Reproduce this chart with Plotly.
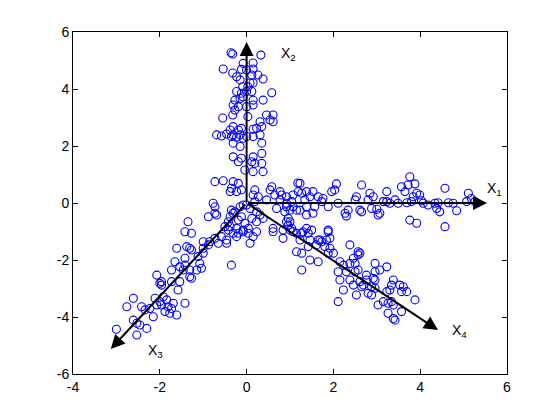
import plotly.graph_objects as go

# ---- data ----
x_vals = [
 -0.36,-0.32,0.33,-0.54,-0.08,0.15,-0.12,0.00,0.15,-0.32,-0.23,-0.15,0.26,0.12,0.08,0.38,-0.09,0.03,0.15,
 -0.23,-0.12,0.00,0.12,0.58,-0.27,-0.15,-0.08,0.15,0.38,-0.31,-0.19,-0.27,0.00,0.15,-0.32,-0.55,0.03,0.46,
 0.61,0.54,0.61,0.31,0.35,0.23,0.15,-0.31,-0.19,-0.38,-0.12,-0.69,-0.58,-0.46,-0.31,0.00,0.31,
 -0.35,-0.23,-0.15,-0.08,0.15,-0.15,-0.31,0.35,0.35,-0.31,-0.19,-0.12,0.15,0.19,0.12,0.35,-0.04,0.15,0.38,
 -0.73,-0.54,-0.31,-0.19,-0.35,-0.23,-0.12,-0.38,0.19,0.15,0.27,0.19,0.58,0.54,0.77,0.81,0.65,1.18,
 -0.77,-0.73,-0.88,-0.35,-0.27,-0.38,-0.08,0.08,0.23,0.31,0.46,0.77,0.92,1.04,0.69,1.00,1.15,
 -0.19,-0.12,0.12,0.23,-0.50,-0.42,-0.31,-0.08,0.23,0.61,0.84,1.00,-0.73,-0.23,0.15,
 1.23,2.07,2.03,1.96,2.65,0.92,1.07,1.19,1.27,1.38,1.53,1.46,1.34,1.65,1.76,1.73,2.84,2.92,2.80,3.23,2.53,
 2.50,3.23,2.11,2.34,2.27,2.30,2.61,2.88,3.00,3.03,2.65,0.92,1.07,1.23,1.38,1.53,1.38,1.57,1.88,0.88,0.96,
 0.92,1.04,1.07,1.30,1.42,1.50,1.38,1.88,1.92,1.69,
 3.76,3.57,3.72,3.88,3.65,3.92,3.99,3.84,4.57,5.11,5.18,3.15,3.30,3.42,3.49,3.69,3.80,4.03,4.07,4.18,4.34,
 4.38,4.45,4.41,4.65,4.76,4.84,5.07,5.26,3.07,3.76,3.92,4.57,
 -0.73,-0.31,-0.15,0.00,-0.69,-0.42,-0.38,-0.23,-0.19,-0.08,-0.04,-1.35,-1.42,-1.27,-0.58,-0.46,-0.65,-0.46,
 0.08,-1.00,-0.88,-0.85,-1.61,-1.31,-1.38,-1.27,-1.00,-1.42,-1.12,-1.00,-1.65,-1.54,-1.42,-1.31,-1.08,-1.15,
 -1.04,-0.35,-1.73,-1.46,-2.07,-1.31,-1.27,-1.96,-1.96,-2.00,-1.73,-1.54,-1.58,-2.61,-2.11,-2.76,-2.42,-2.34,
 -1.92,-1.84,-2.00,-1.96,-1.81,-1.73,-1.77,-1.61,-1.88,-2.15,-2.23,-2.07,-1.42,-1.69,-2.61,-2.53,-2.46,-2.30,
 -3.00,-2.53,
 0.04,0.04,0.38,0.61,0.84,1.00,0.96,1.15,1.27,1.88,1.84,1.65,1.46,1.23,1.15,1.27,1.46,1.65,1.42,1.61,1.73,
 1.80,1.92,1.88,2.00,1.27,2.38,2.57,2.57,2.46,2.50,2.38,2.15,2.23,2.11,2.30,2.15,2.38,2.50,2.57,2.76,2.96,
 2.96,2.96,2.88,2.65,2.46,2.23,2.53,2.11,3.03,
 2.61,3.23,3.07,2.92,2.76,2.69,2.96,2.88,2.80,2.61,3.38,3.34,3.30,3.23,3.53,3.61,3.57,3.69,3.88,3.15,3.26,
 3.34,3.38,3.26,3.38,3.42,3.57,
]
y_vals = [
 5.27,5.23,5.19,4.70,4.90,4.91,4.69,4.67,4.70,4.56,4.43,4.32,4.49,4.49,4.21,4.35,4.08,4.08,4.21,
 3.91,3.85,3.91,3.91,3.87,3.61,3.67,3.73,3.61,3.61,3.44,3.38,3.26,3.38,3.44,3.09,2.98,3.03,3.09,
 3.09,2.91,2.85,2.85,2.68,2.62,2.59,2.68,2.56,2.56,2.62,2.39,2.35,2.42,2.39,2.33,2.39,
 2.33,2.31,2.39,2.27,2.33,1.98,2.10,2.10,1.74,1.62,1.45,1.57,1.62,1.39,1.45,1.39,1.16,1.10,1.10,
 0.75,0.78,0.75,0.69,0.52,0.40,0.46,0.40,0.46,0.28,0.22,0.05,0.57,0.46,0.40,0.28,0.28,0.70,
 -0.01,-0.36,-0.48,-0.25,-0.31,-0.48,-0.07,-0.19,-0.31,-0.42,0.11,0.11,-0.01,0.05,-0.19,-0.25,-0.25,
 -0.60,-0.48,-0.54,-0.66,-0.83,-0.95,-1.06,-0.95,-1.01,-0.89,-0.95,-0.66,-1.24,-1.18,-1.18,
 0.69,0.67,0.46,0.40,0.63,0.22,0.28,0.40,0.34,0.40,0.40,0.22,0.11,0.22,0.16,0.05,0.34,0.22,0.11,0.40,0.22,
 0.11,0.05,-0.01,-0.25,-0.36,-0.46,-0.25,-0.19,-0.22,-0.42,-0.31,-0.13,-0.13,-0.25,-0.42,-0.36,-0.13,-0.13,
 -0.13,-0.31,-0.54,
 -0.66,-0.89,-1.01,-1.01,-1.06,-0.95,-0.89,-0.95,-1.24,-1.30,
 0.92,0.57,0.63,0.67,0.40,0.34,0.28,0.22,0.52,0.34,0.16,0.05,-0.01,0.11,-0.01,0.01,0.05,0.08,-0.01,-0.07,-0.01,
 -0.19,-0.31,0.01,0.01,-0.01,-0.27,0.05,0.05,-0.36,-0.60,-0.71,-0.83,
 -0.13,-0.36,-0.13,-0.07,-0.42,-0.66,-0.83,-0.89,-1.06,-1.01,-0.71,-0.66,-1.01,-1.06,-1.18,-1.30,-1.41,-1.41,
 -1.41,-1.36,-1.47,-1.36,-1.59,-1.59,-1.53,-1.65,-1.59,-1.94,-1.88,-1.76,-2.06,-2.24,-2.18,-2.35,-2.12,-2.35,
 -2.29,-2.18,-2.35,-2.35,-2.53,-2.59,-2.64,-2.76,-2.88,-2.82,-2.76,-2.76,-3.05,-3.34,-3.34,-3.64,-3.64,-3.75,
 -3.29,-3.40,-3.46,-3.58,-3.64,-3.70,-3.87,-3.93,-3.81,-3.99,-3.70,-3.58,-3.52,-3.52,-4.11,-4.22,-4.28,-4.40,
 -4.43,-4.63,
 -0.89,-1.06,-0.54,-1.01,-1.24,-0.95,-0.77,-1.06,-1.06,-1.01,-1.30,-1.30,-1.30,-1.30,-1.71,-1.76,-2.00,-2.06,-1.53,-1.47,-1.36,
 -1.53,-1.59,-1.76,-1.76,-2.35,-1.47,-1.71,-1.82,-1.94,-2.12,-2.12,-2.06,-2.18,-2.41,-2.41,-2.70,-2.70,-2.41,-2.35,-2.53,-2.12,
 -2.41,-2.70,-2.94,-2.94,-2.88,-3.05,-3.23,-3.46,-3.58,
 -1.76,-2.24,-2.35,-2.64,-2.70,-2.88,-2.99,-3.23,-3.17,-2.76,-2.70,-2.88,-3.05,-3.11,-2.88,-2.94,-3.11,-3.11,-3.40,-3.46,-3.52,
 -3.46,-3.58,-3.87,-4.05,-4.11,-3.81,
]

# arrow end points (all start at the origin) and their labels
arrow_x = [5.54, 0.0, -3.13, 4.41]
arrow_y = [0.0, 5.65, -5.12, -4.46]
label_text = ["X<sub>1</sub>", "X<sub>2</sub>", "X<sub>3</sub>", "X<sub>4</sub>"]
label_x = [5.49, 0.74, -2.32, 4.68]
label_y = [0.48, 5.23, -5.19, -4.49]

x_ticks = [-4, -2, 0, 2, 4, 6]
y_ticks = [-6, -4, -2, 0, 2, 4, 6]

FONT = "Liberation Sans, Arial, sans-serif"

n = min(len(x_vals), len(y_vals))
fig = go.Figure()
fig.add_trace(go.Scatter(
    x=x_vals[:n], y=y_vals[:n], mode="markers",
    marker=dict(symbol="circle-open", size=8, color="#0000FF", line=dict(width=1.1, color="#0000FF")),
    showlegend=False, hoverinfo="skip"))

annotations = []
for ex, ey in zip(arrow_x, arrow_y):
    annotations.append(dict(
        x=ex, y=ey, ax=0, ay=0, xref="x", yref="y", axref="x", ayref="y",
        showarrow=True, arrowhead=2, arrowsize=1.4, arrowwidth=2, arrowcolor="black",
        standoff=0, startstandoff=0, text=""))
for t, lx, ly in zip(label_text, label_x, label_y):
    annotations.append(dict(
        x=lx, y=ly, xref="x", yref="y", text=t, showarrow=False,
        xanchor="left", yanchor="middle",
        font=dict(family=FONT, size=14, color="black")))

axis_common = dict(
    showgrid=False, zeroline=False, showline=True, linecolor="black", linewidth=1,
    mirror="ticks", ticks="inside", ticklen=5, tickcolor="black", tickwidth=1,
    tickfont=dict(family=FONT, size=14, color="black"))

fig.update_layout(
    width=560, height=420,
    margin=dict(l=73, r=53, t=32, b=46),
    paper_bgcolor="white", plot_bgcolor="white",
    xaxis=dict(range=[-4, 6], tickvals=x_ticks, ticktext=[str(v) for v in x_ticks], **axis_common),
    yaxis=dict(range=[-6, 6], tickvals=y_ticks, ticktext=[str(v) for v in y_ticks], **axis_common),
    annotations=annotations,
)

fig.write_html("out.html", config={"displayModeBar": False, "staticPlot": True},
               post_script="document.body.style.margin='0';document.body.style.overflow='hidden';")
